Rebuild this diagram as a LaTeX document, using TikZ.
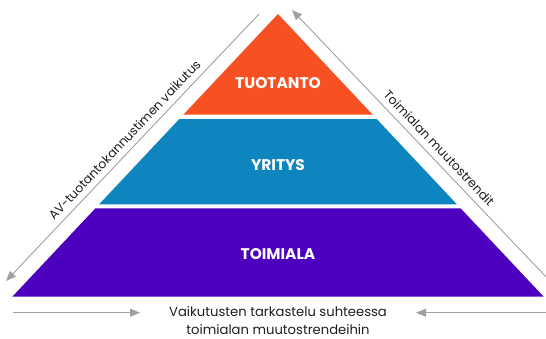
\documentclass[tikz,border=0pt]{standalone}
\usepackage{fontspec}
\setmainfont{Poppins}
\usetikzlibrary{positioning,arrows.meta}
\definecolor{tuotantoc}{HTML}{F75023}
\definecolor{yritysc}{HTML}{0E85BF}
\definecolor{toimialac}{HTML}{4D00BE}
\definecolor{flowc}{HTML}{A0A0A0}
\definecolor{notec}{HTML}{1E1E1E}
\begin{document}
\begin{tikzpicture}[x=1bp,y=-1bp,
    layer/.style={font=\bfseries\fontsize{15.5}{18}\selectfont,text=white},
    note/.style={font=\fontsize{12.5}{15}\selectfont,text=notec},
    flow/.style={draw=flowc,line width=0.9bp,-{Triangle[length=10bp,width=8bp]}}]
      \useasboundingbox (0,0) rectangle (546,338);
      % pyramid slices
      \fill[tuotantoc] (278,14) -- (372.5,114.5) -- (183.5,114.5) -- cycle;
      \fill[yritysc] (179.3,119) -- (376.7,119) -- (456.9,204.3) -- (99.1,204.3) -- cycle;
      \fill[toimialac] (95.4,208.3) -- (460.6,208.3) -- (543.7,296.7) -- (12.3,296.7) -- cycle;
      \node[layer] (tuotanto) at (278,83) {TUOTANTO};
      \node[layer] (yritys) at (278,165) {YRITYS};
      \node[layer] (toimiala) at (278,254) {TOIMIALA};

      \coordinate (avtop) at (259,14);
      \coordinate (avend) at (6,281);
      \coordinate (trtail) at (549,280);
      \coordinate (trtip) at (292,10);
      \draw[flow] (avtop) -- node[sloped,above=2.5bp,note] (avlabel) {AV-tuotantokannustimen vaikutus} (avend);
      \draw[flow] (trtail) -- node[sloped,above=3bp,note,pos=0.46] (trlabel) {Toimialan muutostrendit} (trtip);

      \node[note,font=\fontsize{13.2}{17.7}\selectfont,align=center] (trendtext) at (278,320.5) {Vaikutusten tarkastelu suhteessa\\toimialan muutostrendeihin};
      \coordinate (botleft) at (12.7,312.7);
      \coordinate (botlefttip) at (140,312.7);
      \coordinate (botright) at (546,312.7);
      \coordinate (botrighttip) at (416,312.7);
      \draw[flow] (botleft) -- (botlefttip);
      \draw[flow] (botright) -- (botrighttip);
    \end{tikzpicture}
\end{document}
